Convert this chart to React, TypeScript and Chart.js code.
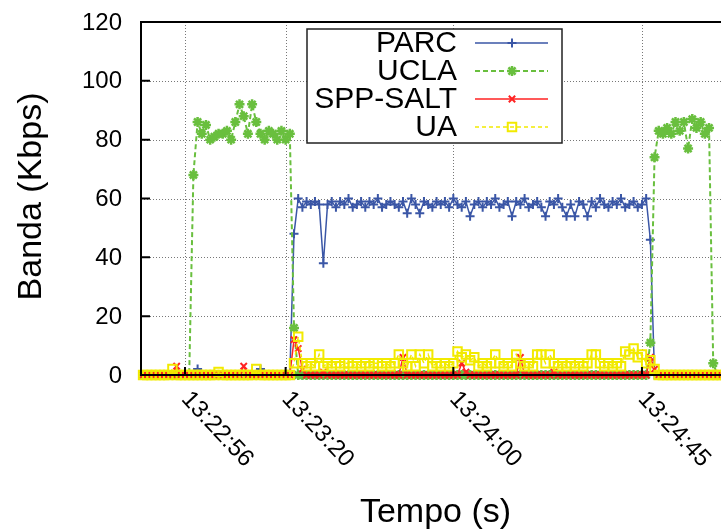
import React, { useEffect, useRef } from "react";
import { Chart, registerables } from "chart.js";
import { drawPoint } from "chart.js/helpers";

Chart.register(...registerables);

// time in seconds relative to 13:22:56, one sample per second
const T_START = -10;
const T_STEP = 1;
const X_MIN = -10.5;
const X_MAX = 130;

const TICK_SECONDS = [0, 24, 64, 109];
const TICK_LABELS = ["13:22:56", "13:23:20", "13:24:00", "13:24:45"];
const Y_TICKS = [0, 20, 40, 60, 80, 100, 120];

const SERIES_NAMES = ["PARC", "UCLA", "SPP-SALT", "UA"];

const parc = [
  0, 0, 0, 0, 0, 0, 0, 0, 0, 0,
  0, 0, 0, 2, 0, 0, 0, 0, 0, 0,
  0, 0, 0, 0, 0, 0, 0, 0, 2, 0,
  0, 0, 0, 0, 0, 0, 48, 60, 57, 59,
  58, 59, 58, 38, 58, 59, 57, 59, 58, 60,
  57, 58, 59, 57, 59, 58, 60, 57, 58, 59,
  58, 57, 59, 55, 60, 58, 55, 59, 58, 57,
  59, 58, 59, 57, 60, 58, 57, 59, 54, 58,
  59, 57, 59, 58, 60, 57, 58, 59, 54, 59,
  58, 60, 57, 58, 59, 57, 54, 59, 58, 60,
  57, 54, 58, 54, 59, 58, 54, 59, 57, 60,
  58, 57, 59, 58, 60, 57, 58, 59, 57, 58,
  60, 46, 0, 0, 0, 0, 0, 0, 0, 0,
  0, 0, 0, 0, 0, 0, 0, 0, 0, 0,
  0,
];

const ucla = [
  0, 0, 0, 0, 0, 0, 0, 0, 0, 0,
  0, 0, 68, 86, 82, 85, 80, 81, 82, 82,
  83, 80, 86, 92, 88, 82, 92, 86, 82, 80,
  83, 82, 80, 83, 80, 82, 16, 0, 0, 0,
  0, 0, 0, 0, 0, 0, 0, 0, 0, 0,
  0, 0, 0, 0, 0, 0, 0, 0, 0, 0,
  0, 0, 0, 0, 0, 0, 0, 0, 0, 0,
  0, 0, 0, 0, 0, 0, 0, 0, 0, 0,
  0, 0, 0, 0, 0, 0, 0, 0, 0, 0,
  0, 0, 0, 0, 0, 0, 0, 0, 0, 0,
  0, 0, 0, 0, 0, 0, 0, 0, 0, 0,
  0, 0, 0, 0, 0, 0, 0, 0, 0, 0,
  0, 11, 74, 83, 82, 84, 82, 86, 83, 86,
  77, 87, 84, 86, 82, 84, 4, 0, 0, 0,
  0,
];

const sppSalt = [
  0, 0, 0, 0, 0, 0, 0, 0, 3, 0,
  0, 0, 0, 0, 0, 0, 0, 0, 0, 0,
  0, 0, 0, 0, 3, 0, 0, 0, 0, 0,
  0, 0, 0, 0, 0, 0, 12, 9, 2, 0,
  0, 0, 0, 1, 0, 0, 0, 0, 0, 0,
  0, 0, 0, 0, 0, 0, 0, 0, 0, 0,
  0, 0, 6, 0, 0, 0, 0, 0, 0, 0,
  0, 0, 0, 0, 0, 0, 4, 1, 0, 0,
  0, 0, 0, 0, 0, 0, 0, 0, 0, 0,
  6, 0, 0, 0, 0, 0, 0, 0, 1, 0,
  0, 0, 0, 0, 0, 0, 0, 0, 0, 0,
  0, 0, 0, 0, 0, 0, 0, 0, 0, 0,
  0, 6, 2, 0, 0, 0, 0, 0, 0, 0,
  0, 0, 0, 0, 0, 0, 0, 0, 0, 0,
  0,
];

const ua = [
  0, 0, 0, 0, 0, 0, 0, 2, 0, 0,
  0, 0, 0, 0, 0, 0, 0, 0, 1, 0,
  0, 0, 0, 0, 0, 0, 0, 2, 0, 0,
  0, 0, 0, 0, 0, 0, 4, 13, 4, 3,
  4, 3, 7, 3, 4, 3, 4, 3, 4, 4,
  3, 4, 3, 4, 3, 4, 4, 3, 4, 3,
  4, 7, 4, 3, 7, 3, 7, 4, 7, 3,
  4, 3, 4, 3, 4, 8, 6, 7, 5, 6,
  3, 4, 3, 4, 7, 4, 3, 4, 3, 7,
  4, 3, 4, 3, 7, 7, 4, 7, 4, 3,
  4, 3, 4, 3, 4, 3, 4, 7, 7, 4,
  3, 4, 3, 4, 3, 8, 7, 9, 6, 7,
  4, 5, 2, 0, 0, 0, 0, 0, 0, 0,
  0, 0, 0, 0, 0, 0, 0, 0, 0, 0,
  0,
];

const COLORS = ["#3a56a6", "#69bf3e", "#ff2222", "#f2ea00"];

const FONT = "'Liberation Sans', Arial, Helvetica, sans-serif";

const toPoints = (vals: number[]) =>
  vals.map((v, i) => ({ x: T_START + i * T_STEP, y: v }));

const gridPlugin = {
  id: "gpGrid",
  beforeDatasetsDraw(chart: any) {
    const { ctx, chartArea } = chart;
    const xs = chart.scales.x;
    const ys = chart.scales.y;
    ctx.save();
    ctx.strokeStyle = "#777";
    ctx.lineWidth = 1;
    ctx.setLineDash([1, 2]);
    Y_TICKS.slice(1, -1).forEach((v) => {
      const y = Math.round(ys.getPixelForValue(v)) + 0.5;
      ctx.beginPath();
      ctx.moveTo(chartArea.left, y);
      ctx.lineTo(chartArea.right, y);
      ctx.stroke();
    });
    TICK_SECONDS.forEach((v) => {
      const x = Math.round(xs.getPixelForValue(v)) + 0.5;
      ctx.beginPath();
      ctx.moveTo(x, chartArea.top);
      ctx.lineTo(x, chartArea.bottom);
      ctx.stroke();
    });
    ctx.restore();
  },
};

const framePlugin = {
  id: "gpFrame",
  afterDatasetsDraw(chart: any) {
    const { ctx, chartArea } = chart;
    const { left, right, top, bottom } = chartArea;
    const xs = chart.scales.x;
    const ys = chart.scales.y;
    ctx.save();
    ctx.strokeStyle = "#000";
    ctx.lineWidth = 2;
    ctx.setLineDash([]);
    ctx.beginPath();
    ctx.moveTo(left, top);
    ctx.lineTo(right, top);
    ctx.moveTo(left, top - 1);
    ctx.lineTo(left, bottom + 1);
    ctx.moveTo(left, bottom);
    ctx.lineTo(right, bottom);
    ctx.moveTo(right, top);
    ctx.lineTo(right, bottom);
    ctx.stroke();
    // inward tick marks
    ctx.beginPath();
    Y_TICKS.forEach((v) => {
      const y = ys.getPixelForValue(v);
      ctx.moveTo(left, y);
      ctx.lineTo(left + 9, y);
    });
    TICK_SECONDS.forEach((v) => {
      const x = xs.getPixelForValue(v);
      ctx.moveTo(x, bottom);
      ctx.lineTo(x, bottom - 8);
    });
    ctx.stroke();
    ctx.restore();
  },
  afterDraw(chart: any) {
    const { ctx, chartArea } = chart;
    const xs = chart.scales.x;
    const ys = chart.scales.y;
    ctx.save();
    ctx.fillStyle = "#000";
    // y tick labels
    ctx.font = `24px ${FONT}`;
    ctx.textAlign = "right";
    ctx.textBaseline = "middle";
    Y_TICKS.forEach((v) => {
      ctx.fillText(String(v), chartArea.left - 19, ys.getPixelForValue(v) + 1);
    });
    // rotated x tick labels
    ctx.textAlign = "left";
    ctx.textBaseline = "top";
    TICK_SECONDS.forEach((v, i) => {
      const x = xs.getPixelForValue(v);
      ctx.save();
      ctx.translate(x + 9, chartArea.bottom + 12);
      ctx.rotate((47 * Math.PI) / 180);
      ctx.fillText(TICK_LABELS[i], 0, 0);
      ctx.restore();
    });
    // axis titles
    ctx.font = `34px ${FONT}`;
    ctx.textAlign = "center";
    ctx.textBaseline = "middle";
    ctx.fillText("Tempo (s)", (chartArea.left + chartArea.right) / 2, 513);
    ctx.save();
    ctx.translate(32, (chartArea.top + chartArea.bottom) / 2 - 2);
    ctx.rotate(-Math.PI / 2);
    ctx.fillText("Banda (Kbps)", 0, 0);
    ctx.restore();
    ctx.restore();
  },
};

const legendPlugin = {
  id: "gpLegend",
  afterDraw(chart: any) {
    const { ctx, chartArea } = chart;
    const bx = chartArea.left + 166;
    const by = chartArea.top + 7;
    const bw = 255;
    const bh = 114;
    ctx.save();
    ctx.fillStyle = "#fff";
    ctx.fillRect(bx, by, bw, bh);
    ctx.strokeStyle = "#222";
    ctx.lineWidth = 1.5;
    ctx.strokeRect(bx, by, bw, bh);
    chart.data.datasets.forEach((ds: any, i: number) => {
      const cy = by + 14 + i * 28;
      ctx.font = `30px ${FONT}`;
      ctx.textAlign = "right";
      ctx.textBaseline = "middle";
      ctx.fillStyle = "#000";
      ctx.fillText(ds.label, bx + 150, cy + 1);
      ctx.strokeStyle = ds.borderColor;
      ctx.lineWidth = ds.borderWidth;
      ctx.setLineDash(ds.borderDash || []);
      ctx.beginPath();
      ctx.moveTo(bx + 168, cy);
      ctx.lineTo(bx + 241, cy);
      ctx.stroke();
      ctx.setLineDash([]);
      ctx.strokeStyle = ds.pointBorderColor;
      ctx.fillStyle = ds.pointBackgroundColor;
      ctx.lineWidth = ds.pointBorderWidth;
      drawPoint(
        ctx,
        {
          pointStyle: ds.pointStyle,
          radius: ds.pointRadius,
          borderWidth: ds.pointBorderWidth,
          rotation: 0,
        } as any,
        bx + 205,
        cy
      );
    });
    ctx.restore();
  },
};

export default function App() {
  const canvasRef = useRef<HTMLCanvasElement | null>(null);

  useEffect(() => {
    const canvas = canvasRef.current;
    if (!canvas) return;
    const styles = [
      { style: "cross", radius: 4.5, pbw: 2, bw: 1.5, dash: [] as number[], bg: COLORS[0], order: 3 },
      { style: "star", radius: 5, pbw: 2.5, bw: 2, dash: [5, 3], bg: COLORS[1], order: 2 },
      { style: "crossRot", radius: 4.5, pbw: 2, bw: 1.5, dash: [] as number[], bg: COLORS[2], order: 1 },
      { style: "rect", radius: 6, pbw: 2, bw: 1.5, dash: [4, 3], bg: "rgba(0,0,0,0)", order: 0 },
    ];
    const seriesValues = [parc, ucla, sppSalt, ua];
    const chart = new Chart(canvas, {
      type: "line",
      data: {
        datasets: seriesValues.map((vals, i) => ({
          label: SERIES_NAMES[i],
          data: toPoints(vals),
          borderColor: COLORS[i],
          borderWidth: styles[i].bw,
          borderDash: styles[i].dash,
          pointStyle: styles[i].style as any,
          pointRadius: styles[i].radius,
          pointBorderWidth: styles[i].pbw,
          pointBorderColor: COLORS[i],
          pointBackgroundColor: styles[i].bg,
          pointHoverRadius: styles[i].radius,
          tension: 0,
          fill: false,
          clip: false as any,
          order: styles[i].order,
        })),
      },
      options: {
        responsive: false,
        animation: false,
        devicePixelRatio: 1,
        layout: { autoPadding: false, padding: { top: 22, bottom: 156, left: 141, right: 0 } },
        plugins: {
          legend: { display: false },
          tooltip: { enabled: false },
        },
        events: [],
        scales: {
          x: {
            type: "linear",
            min: X_MIN,
            max: X_MAX,
            display: false,
          },
          y: {
            type: "linear",
            min: 0,
            max: 120,
            display: false,
          },
        },
      },
      plugins: [gridPlugin, framePlugin, legendPlugin],
    } as any);
    return () => chart.destroy();
  }, []);

  return (
    <div
      style={{
        position: "fixed",
        left: 0,
        top: 0,
        width: 721,
        height: 531,
        overflow: "hidden",
        background: "#fff",
      }}
    >
      <canvas
        ref={canvasRef}
        width={730}
        height={531}
        style={{ display: "block", width: 730, height: 531 }}
      />
    </div>
  );
}
